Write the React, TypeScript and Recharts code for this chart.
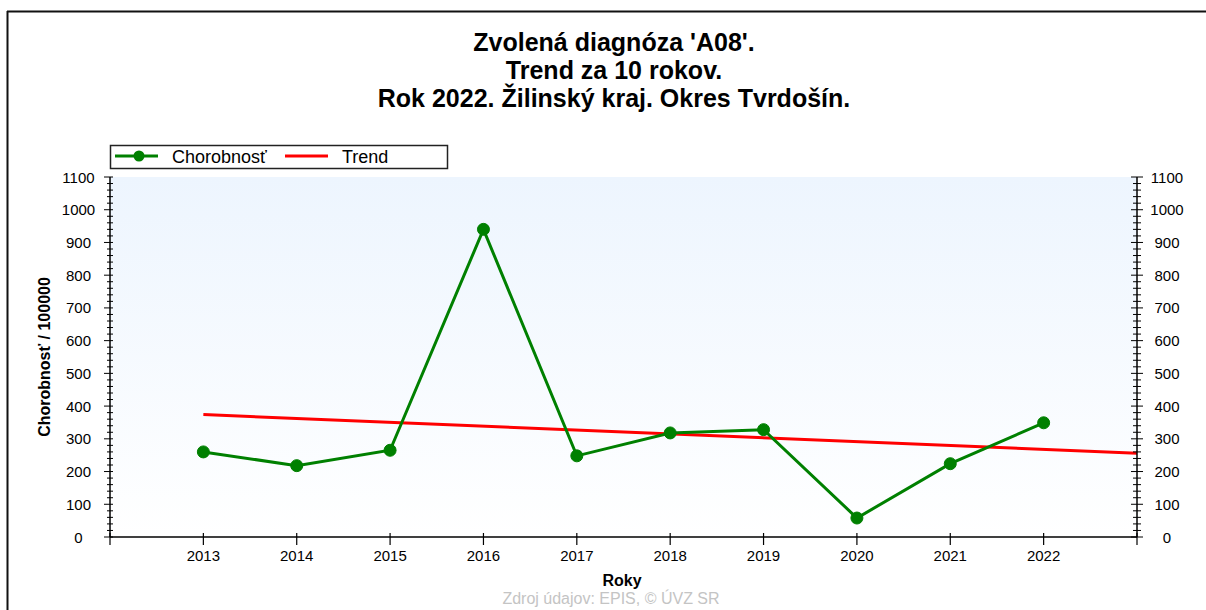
import React from "react";
import { LineChart, Line, XAxis, YAxis, CartesianGrid } from "recharts";

const FONT = "'Liberation Sans', Arial, sans-serif";

const TITLE_LINES = [
  "Zvolená diagnóza 'A08'.",
  "Trend za 10 rokov.",
  "Rok 2022. Žilinský kraj. Okres Tvrdošín.",
];
const Y_TITLE = "Chorobnosť / 100000";
const X_TITLE = "Roky";
const SOURCE = "Zdroj údajov: EPIS, © ÚVZ SR";
const SERIES_NAMES = ["Chorobnosť", "Trend"];

const YEARS = [2013, 2014, 2015, 2016, 2017, 2018, 2019, 2020, 2021, 2022];
const CHOROBNOST = [260, 218, 265, 940, 248, 318, 328, 58, 224, 349];
const TREND_YEARS = [2013, 2023];
const TREND_VALUES = [374, 256];

const X_DOMAIN = [2012, 2023];
const X_TICKS = [2012, ...YEARS, 2023];
const Y_MAX = 1100;
const Y_MINOR_TICKS = Array.from({ length: Y_MAX / 20 + 1 }, (_, i) => i * 20);

const GREEN = "#008000";
const RED = "#ff0000";

const chorobnostData = YEARS.map((rok, i) => ({ rok, value: CHOROBNOST[i] }));
const trendData = TREND_YEARS.map((rok, i) => ({ rok, value: TREND_VALUES[i] }));

function LeftTick(props: any) {
  const { x, y, payload } = props;
  const major = payload.value % 100 === 0;
  return (
    <g>
      <line x1={x - (major ? 6 : 3)} x2={x + 3} y1={y} y2={y} stroke="#000" strokeWidth={1} />
      {major && (
        <text x={x - 31.5} y={y + 5.5} textAnchor="middle" fontSize={15} fontFamily={FONT} fill="#000">
          {payload.value}
        </text>
      )}
    </g>
  );
}

function RightTick(props: any) {
  const { x, y, payload } = props;
  const major = payload.value % 100 === 0;
  return (
    <g>
      <line x1={x - (major ? 6 : 4)} x2={x + (major ? 6 : 4)} y1={y} y2={y} stroke="#000" strokeWidth={1} />
      {major && (
        <text x={x + 30} y={y + 5.5} textAnchor="middle" fontSize={15} fontFamily={FONT} fill="#000">
          {payload.value}
        </text>
      )}
    </g>
  );
}

function BottomTick(props: any) {
  const { x, y, payload } = props;
  const labelled = YEARS.includes(payload.value);
  return (
    <g>
      <line x1={x} x2={x} y1={y - 4} y2={y + 8} stroke="#000" strokeWidth={1.2} />
      {labelled && (
        <text x={x} y={y + 24} textAnchor="middle" fontSize={15} fontFamily={FONT} fill="#000">
          {payload.value}
        </text>
      )}
    </g>
  );
}

function TopTick(props: any) {
  const { x, y } = props;
  return <line x1={x} x2={x} y1={y} y2={y + 6} stroke="#000" strokeWidth={1.2} />;
}

export default function App() {
  return (
    <div style={{ position: "absolute", left: 0, top: 0, width: 1206, height: 610, background: "#fff" }}>
      <LineChart width={1206} height={610} margin={{ top: 177, right: 0, bottom: 0, left: 0 }}>
        <defs>
          <linearGradient id="plotBg" x1="0" y1="0" x2="0" y2="1">
            <stop offset="0%" stopColor="#edf5fe" />
            <stop offset="100%" stopColor="#ffffff" />
          </linearGradient>
        </defs>
        <CartesianGrid horizontal={false} vertical={false} fill="url(#plotBg)" />
        <XAxis
          xAxisId="bottom"
          dataKey="rok"
          type="number"
          domain={X_DOMAIN}
          ticks={X_TICKS}
          interval={0}
          height={73}
          tickSize={0}
          tickMargin={0}
          tickLine={false}
          axisLine={{ stroke: "#000", strokeWidth: 1.5 }}
          tick={<BottomTick />}
          allowDataOverflow
        />
        <XAxis
          xAxisId="top"
          orientation="top"
          dataKey="rok"
          type="number"
          domain={X_DOMAIN}
          ticks={X_TICKS}
          interval={0}
          height={0}
          tickSize={0}
          tickMargin={0}
          tickLine={false}
          axisLine={{ stroke: "#000", strokeWidth: 2 }}
          tick={<TopTick />}
          allowDataOverflow
        />
        <YAxis
          yAxisId="left"
          domain={[0, Y_MAX]}
          ticks={Y_MINOR_TICKS}
          interval={0}
          width={110}
          tickSize={0}
          tickMargin={0}
          tickLine={false}
          axisLine={{ stroke: "#000", strokeWidth: 1.5 }}
          tick={<LeftTick />}
        />
        <YAxis
          yAxisId="right"
          orientation="right"
          domain={[0, Y_MAX]}
          ticks={Y_MINOR_TICKS}
          interval={0}
          width={69}
          tickSize={0}
          tickMargin={0}
          tickLine={false}
          axisLine={{ stroke: "#000", strokeWidth: 1.5 }}
          tick={<RightTick />}
        />
        {/* invisible copy so the right / top axes get their ticks */}
        <Line
          xAxisId="top"
          yAxisId="right"
          data={chorobnostData}
          dataKey="value"
          stroke="none"
          dot={false}
          activeDot={false}
          legendType="none"
          isAnimationActive={false}
        />
        <Line
          xAxisId="bottom"
          yAxisId="left"
          data={trendData}
          dataKey="value"
          name={SERIES_NAMES[1]}
          stroke={RED}
          strokeWidth={3}
          dot={false}
          isAnimationActive={false}
        />
        <Line
          xAxisId="bottom"
          yAxisId="left"
          data={chorobnostData}
          dataKey="value"
          name={SERIES_NAMES[0]}
          stroke={GREEN}
          strokeWidth={3}
          dot={{ r: 6, fill: GREEN, stroke: GREEN, strokeWidth: 1 }}
          isAnimationActive={false}
        />
      </LineChart>

      <svg
        width={1206}
        height={610}
        style={{ position: "absolute", left: 0, top: 0, pointerEvents: "none" }}
      >
        <line x1={7} x2={1206} y1={11.5} y2={11.5} stroke="#111" strokeWidth={2} />
        <line x1={7.5} x2={7.5} y1={11} y2={610} stroke="#111" strokeWidth={2} />

        {TITLE_LINES.map((t, i) => (
          <text
            key={i}
            x={614}
            y={51 + i * 28}
            textAnchor="middle"
            fontSize={25}
            fontWeight="bold"
            fontFamily={FONT}
            fill="#000"
          >
            {t}
          </text>
        ))}

        <rect x={110.5} y={145.5} width={337} height={23} fill="#fff" stroke="#222" strokeWidth={1.5} />
        <line x1={115} x2={158} y1={156} y2={156} stroke={GREEN} strokeWidth={3} />
        <circle cx={139} cy={156} r={5.5} fill={GREEN} />
        <text x={172} y={162.5} fontSize={18} fontFamily={FONT} fill="#000">
          {SERIES_NAMES[0]}
        </text>
        <line x1={285} x2={328} y1={156} y2={156} stroke={RED} strokeWidth={3} />
        <text x={342} y={162.5} fontSize={18} fontFamily={FONT} fill="#000">
          {SERIES_NAMES[1]}
        </text>

        <text
          transform="translate(44, 357) rotate(-90)"
          textAnchor="middle"
          dominantBaseline="central"
          fontSize={16}
          fontWeight="bold"
          fontFamily={FONT}
          fill="#000"
        >
          {Y_TITLE}
        </text>
        <text x={622} y={586} textAnchor="middle" fontSize={16} fontWeight="bold" fontFamily={FONT} fill="#000">
          {X_TITLE}
        </text>
        <text x={611} y={604} textAnchor="middle" fontSize={16} fontFamily={FONT} fill="#c4c4c4">
          {SOURCE}
        </text>
      </svg>
    </div>
  );
}
